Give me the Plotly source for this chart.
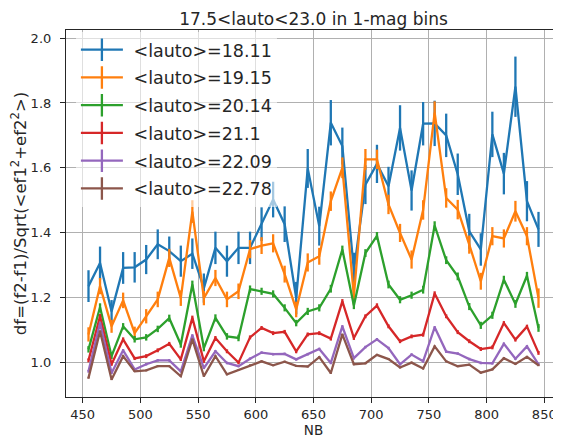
import plotly.graph_objects as go

NB = [455, 465, 475, 485, 495, 505, 515, 525, 535, 545,
      555, 565, 575, 585, 595, 605, 615, 625, 635, 645,
      655, 665, 675, 685, 695, 705, 715, 725, 735, 745,
      755, 765, 775, 785, 795, 805, 815, 825, 835, 845]

labels = ["<lauto>=18.11", "<lauto>=19.15", "<lauto>=20.14",
          "<lauto>=21.1", "<lauto>=22.09", "<lauto>=22.78"]

df_1811 = [1.235, 1.306, 1.157, 1.291, 1.293, 1.317, 1.364, 1.343, 1.312, 1.335,
           1.229, 1.353, 1.312, 1.353, 1.353, 1.426, 1.502, 1.426, 1.198, 1.598,
           1.420, 1.739, 1.667, 1.283, 1.548, 1.612, 1.543, 1.723, 1.530, 1.736,
           1.737, 1.700, 1.580, 1.404, 1.348, 1.703, 1.582, 1.850, 1.497, 1.410]
err_1811 = [0.049, 0.051, 0.035, 0.049, 0.047, 0.045, 0.046, 0.045, 0.048, 0.047,
            0.045, 0.050, 0.048, 0.050, 0.050, 0.052, 0.055, 0.055, 0.050, 0.060,
            0.060, 0.070, 0.057, 0.055, 0.060, 0.059, 0.060, 0.070, 0.062, 0.067,
            0.070, 0.067, 0.064, 0.054, 0.050, 0.070, 0.064, 0.093, 0.062, 0.054]

df_1915 = [1.086, 1.235, 1.111, 1.191, 1.090, 1.142, 1.194, 1.322, 1.198, 1.465,
           1.198, 1.260, 1.194, 1.219, 1.349, 1.360, 1.367, 1.272, 1.163, 1.308,
           1.327, 1.497, 1.600, 1.205, 1.626, 1.626, 1.487, 1.399, 1.317, 1.470,
           1.770, 1.507, 1.471, 1.363, 1.250, 1.389, 1.382, 1.466, 1.389, 1.198]
err_1915 = [0.022, 0.025, 0.020, 0.024, 0.020, 0.022, 0.024, 0.028, 0.024, 0.035,
            0.022, 0.025, 0.024, 0.024, 0.028, 0.026, 0.028, 0.026, 0.024, 0.028,
            0.026, 0.030, 0.032, 0.026, 0.032, 0.030, 0.030, 0.028, 0.028, 0.030,
            0.035, 0.030, 0.030, 0.028, 0.026, 0.028, 0.028, 0.032, 0.028, 0.030]

df_2014 = [1.040, 1.170, 1.019, 1.111, 1.071, 1.077, 1.103, 1.136, 1.055, 1.240,
           1.044, 1.137, 1.080, 1.075, 1.226, 1.219, 1.211, 1.168, 1.121, 1.157,
           1.168, 1.227, 1.348, 1.175, 1.337, 1.390, 1.240, 1.193, 1.207, 1.224,
           1.422, 1.315, 1.265, 1.172, 1.114, 1.145, 1.255, 1.180, 1.267, 1.106]
err_2014 = [0.010, 0.012, 0.009, 0.010, 0.010, 0.010, 0.010, 0.011, 0.010, 0.012,
            0.010, 0.011, 0.010, 0.010, 0.011, 0.011, 0.011, 0.011, 0.010, 0.011,
            0.011, 0.012, 0.012, 0.011, 0.012, 0.012, 0.012, 0.011, 0.011, 0.012,
            0.013, 0.012, 0.012, 0.011, 0.011, 0.011, 0.012, 0.012, 0.012, 0.012]

df_2110 = [1.006, 1.142, 0.994, 1.071, 1.012, 1.019, 1.037, 1.057, 1.009, 1.137,
           1.003, 1.075, 1.034, 0.999, 1.077, 1.106, 1.090, 1.094, 1.034, 1.086,
           1.090, 1.073, 1.188, 1.075, 1.142, 1.175, 1.111, 1.065, 1.080, 1.085,
           1.212, 1.142, 1.093, 1.065, 1.041, 1.046, 1.121, 1.070, 1.110, 1.029]
err_2110 = [0.006, 0.007, 0.005, 0.006, 0.005, 0.006, 0.006, 0.006, 0.005, 0.007,
            0.005, 0.006, 0.006, 0.005, 0.006, 0.006, 0.006, 0.006, 0.006, 0.006,
            0.006, 0.006, 0.007, 0.006, 0.006, 0.007, 0.006, 0.006, 0.006, 0.006,
            0.007, 0.006, 0.006, 0.006, 0.006, 0.006, 0.006, 0.006, 0.006, 0.006]

df_2209 = [0.972, 1.121, 0.967, 1.037, 0.978, 0.994, 1.006, 1.006, 0.972, 1.083,
           0.982, 1.034, 0.998, 0.988, 1.011, 1.030, 1.025, 1.026, 1.009, 1.025,
           1.041, 0.998, 1.111, 1.013, 1.047, 1.071, 1.044, 0.994, 1.024, 1.003,
           1.108, 1.033, 1.027, 1.010, 0.998, 0.997, 1.057, 1.011, 1.049, 0.994]
err_2209 = [0.004, 0.004, 0.003, 0.004, 0.003, 0.004, 0.004, 0.004, 0.003, 0.004,
            0.003, 0.004, 0.004, 0.003, 0.004, 0.004, 0.004, 0.004, 0.004, 0.004,
            0.004, 0.004, 0.004, 0.004, 0.004, 0.004, 0.004, 0.004, 0.004, 0.004,
            0.004, 0.004, 0.004, 0.004, 0.004, 0.004, 0.004, 0.004, 0.004, 0.004]

df_2278 = [0.952, 1.096, 0.947, 1.019, 0.972, 0.975, 0.988, 0.988, 0.957, 1.071,
           0.957, 1.019, 0.963, 0.977, 0.991, 1.003, 0.991, 1.002, 0.989, 0.987,
           1.016, 0.967, 1.086, 0.994, 0.997, 1.023, 1.010, 0.984, 0.999, 0.981,
           1.049, 1.003, 0.988, 0.993, 0.968, 0.978, 1.013, 0.995, 1.017, 0.991]
err_2278 = [0.003, 0.003, 0.002, 0.003, 0.002, 0.003, 0.003, 0.003, 0.002, 0.003,
            0.002, 0.003, 0.003, 0.002, 0.003, 0.003, 0.003, 0.003, 0.003, 0.003,
            0.003, 0.003, 0.003, 0.003, 0.003, 0.003, 0.003, 0.003, 0.003, 0.003,
            0.003, 0.003, 0.003, 0.003, 0.003, 0.003, 0.003, 0.003, 0.003, 0.003]

series = [df_1811, df_1915, df_2014, df_2110, df_2209, df_2278]
errors = [err_1811, err_1915, err_2014, err_2110, err_2209, err_2278]
colors = ["#1f77b4", "#ff7f0e", "#2ca02c", "#d62728", "#9467bd", "#8c564b"]

FONT = "DejaVu Sans"
TXT = "#262626"

fig = go.Figure()
for ys, es, col in zip(series, errors, colors):
    fig.add_trace(go.Scatter(
        x=NB, y=ys, mode="lines",
        line=dict(color=col, width=2.3),
        error_y=dict(type="data", array=es, visible=True,
                     color=col, thickness=2.3, width=0),
        showlegend=False, hoverinfo="x+y"))

# legend-only entries drawn like matplotlib errorbar handles
for k, (lab, col) in enumerate(zip(labels, colors)):
    fig.add_trace(go.Scatter(
        x=[None], y=[None], mode="lines+markers", name="\u00a0" + lab,
        legendgroup="g%d" % k,
        line=dict(color=col, width=2.3),
        marker=dict(symbol="line-ns-open", size=18,
                    line=dict(color=col, width=2.3), color=col)))

# page body adds an 8px offset, so the figure is sized to the visible area
W, H = 553, 433
fig.update_layout(
    width=W, height=H,
    margin=dict(l=58, r=0, t=22, b=44, autoexpand=False),
    paper_bgcolor="white", plot_bgcolor="white",
    font=dict(family=FONT, size=13, color=TXT),
    title=dict(text="17.5<lauto<23.0 in 1-mag bins",
               x=(58 + W) / 2 / W, xanchor="center",
               y=1 - 11 / H, yanchor="middle",
               font=dict(family=FONT, size=17, color=TXT)),
    legend=dict(x=0.02, y=0.995, xanchor="left", yanchor="top",
                bgcolor="rgba(255,255,255,0.6)", borderwidth=0,
                font=dict(family=FONT, size=17.5, color=TXT),
                itemwidth=42, tracegroupgap=2),
    showlegend=True,
)

fig.update_xaxes(
    range=[435.5, 864.5],
    tickvals=[450, 500, 550, 600, 650, 700, 750, 800, 850],
    showgrid=True, gridcolor="#b0b0b0", gridwidth=1,
    showline=True, linecolor=TXT, linewidth=1.2, mirror=True,
    ticks="outside", ticklen=5, tickcolor=TXT,
    tickfont=dict(family=FONT, size=13, color=TXT),
    title=dict(text="NB", font=dict(family=FONT, size=13.5, color=TXT),
               standoff=3),
    zeroline=False)

fig.update_yaxes(
    range=[0.893, 2.025],
    tickvals=[1.0, 1.2, 1.4, 1.6, 1.8, 2.0],
    tickformat=".1f",
    showgrid=True, gridcolor="#b0b0b0", gridwidth=1,
    showline=True, linecolor=TXT, linewidth=1.2, mirror=True,
    ticks="outside", ticklen=5, tickcolor=TXT,
    ticklabelstandoff=6,
    tickfont=dict(family=FONT, size=13, color=TXT),
    title=dict(text="df=(f2-f1)/Sqrt(<ef1<sup>2</sup>+ef2<sup>2</sup>>)",
               font=dict(family=FONT, size=16.5, color=TXT),
               standoff=7),
    zeroline=False)

fig.write_html("out.html")
